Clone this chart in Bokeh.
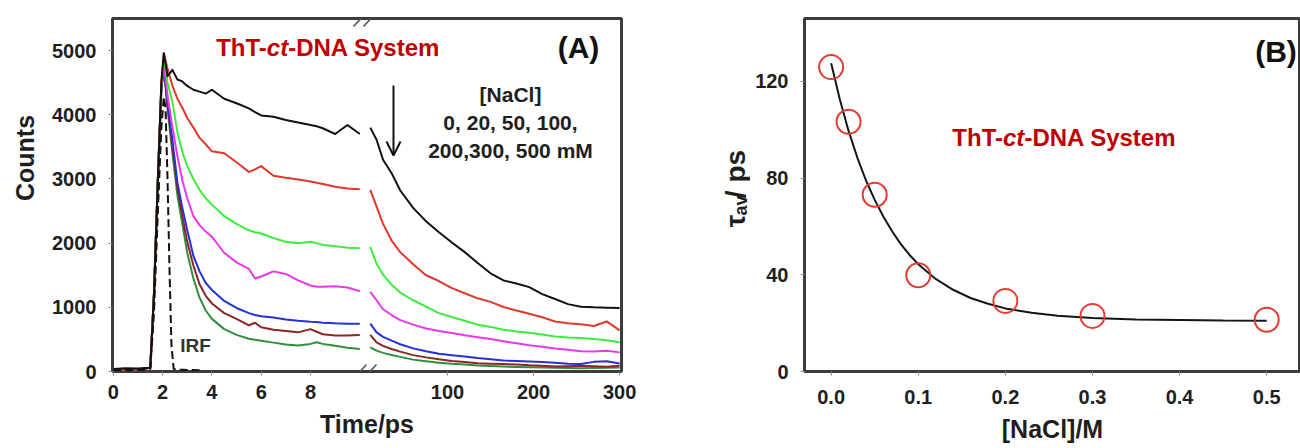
import math
from bokeh.plotting import figure
from bokeh.models import FixedTicker, Label, Arrow, OpenHead, Range1d, PrintfTickFormatter
from bokeh.layouts import row
from bokeh.embed import file_html
from bokeh.resources import INLINE

# ---------------- data: panel A (decay traces) ----------------
T_LEFT = [0, 0.5, 1.0, 1.5, 1.65, 1.8, 1.95, 2.05, 2.2, 2.4, 2.6, 2.8, 3.0, 3.25, 3.5, 3.75,
          4.0, 4.5, 5.0, 5.5, 5.75, 6.0, 6.5, 7.0, 7.5, 8.0, 8.25, 8.5, 9.0, 9.5, 10.0]
T_RIGHT = [10.2, 17.5, 25, 35, 45, 60, 75, 90, 105, 120, 135, 150, 165, 180, 195, 210,
           225, 240, 255, 270, 285, 300]

NACL_0_L = [40, 50, 45, 60, 1200, 2900, 4500, 4960, 4600, 4700, 4550, 4520, 4450, 4390, 4360, 4330,
            4390, 4250, 4180, 4100, 4040, 3990, 3970, 3920, 3880, 3840, 3820, 3790, 3700, 3840, 3700]
NACL_0_R = [3800, 3610, 3300, 3090, 2820, 2550, 2340, 2170, 2010, 1860, 1690, 1530, 1420, 1370, 1315,
            1205, 1130, 1050, 1010, 1000, 995, 990]
NACL_20_L = [30, 30, 30, 60, 1200, 2900, 4500, 4960, 4720, 4450, 4250, 4110, 3950, 3800, 3640, 3540,
             3430, 3400, 3260, 3110, 3150, 3200, 3050, 3020, 2990, 2960, 2940, 2920, 2880, 2850, 2840]
NACL_20_R = [2830, 2570, 2300, 2040, 1860, 1670, 1500, 1410, 1300, 1220, 1140, 1085, 1005, 950, 900,
             845, 780, 750, 735, 710, 780, 640]
NACL_50_L = [30, 30, 30, 60, 1250, 2950, 4450, 4900, 4500, 4200, 3730, 3420, 3200, 3000, 2830, 2700,
             2600, 2420, 2300, 2200, 2170, 2150, 2080, 2020, 2000, 2020, 2000, 1970, 1950, 1930, 1920]
NACL_50_R = [1940, 1680, 1510, 1350, 1230, 1110, 1010, 910, 850, 790, 730, 695, 650, 625, 605,
             575, 545, 530, 522, 505, 488, 455]
NACL_100_L = [30, 30, 30, 60, 1200, 2900, 4450, 4800, 4300, 3800, 3360, 2980, 2700, 2420, 2280, 2180,
              2100, 1850, 1700, 1600, 1450, 1480, 1560, 1520, 1420, 1340, 1320, 1320, 1330, 1310, 1250]
NACL_100_R = [1240, 1110, 970, 880, 800, 730, 670, 630, 600, 565, 535, 505, 470, 440, 410,
              385, 360, 340, 315, 310, 322, 298]
NACL_200_L = [30, 30, 30, 60, 1200, 2900, 4400, 4750, 4200, 3600, 2950, 2550, 2200, 1800, 1560, 1380,
              1270, 1100, 990, 910, 880, 860, 840, 810, 790, 775, 770, 760, 750, 745, 745]
NACL_200_R = [745, 610, 540, 480, 425, 360, 315, 278, 255, 235, 210, 190, 172, 162, 155,
              147, 138, 122, 118, 150, 160, 125]
NACL_300_L = [30, 30, 30, 60, 1200, 2900, 4400, 4750, 4150, 3500, 2850, 2420, 2020, 1650, 1360, 1180,
              1060, 910, 820, 720, 760, 690, 650, 630, 610, 660, 620, 580, 560, 560, 570]
NACL_300_R = [570, 455, 400, 350, 310, 255, 220, 190, 165, 148, 130, 122, 116, 110, 97,
              90, 76, 80, 88, 80, 74, 88]
NACL_500_L = [30, 30, 30, 60, 1200, 2900, 4400, 4750, 4100, 3400, 2750, 2300, 1850, 1450, 1150, 950,
              820, 660, 570, 510, 495, 480, 450, 420, 405, 430, 455, 430, 400, 370, 350]
NACL_500_R = [375, 325, 290, 258, 228, 185, 160, 138, 120, 108, 94, 85, 76, 70, 66,
              62, 58, 55, 52, 55, 58, 62]

T_IRF = [0, 0.5, 1.0, 1.5, 1.65, 1.8, 1.95, 2.05, 2.12, 2.2, 2.28, 2.36, 2.45, 2.7, 3.0, 3.5]
IRF = [25, 25, 25, 40, 900, 2400, 3800, 4280, 4100, 3000, 1600, 400, 40, 30, 25, 20]

X_TICKS_LEFT = [0, 2, 4, 6, 8]
X_TICKS_RIGHT = [100, 200, 300]
Y_TICKS_A = [0, 1000, 2000, 3000, 4000, 5000]

# ---------------- data: panel B ----------------
NACL_M = [0.0, 0.02, 0.05, 0.1, 0.2, 0.3, 0.5]
TAU_AV = [125.9, 103.3, 73.1, 39.8, 29.2, 23.0, 21.4]
FIT_X = [0, 0.01, 0.02, 0.03, 0.04, 0.05, 0.06, 0.07, 0.08, 0.09, 0.10, 0.12, 0.14, 0.16,
         0.18, 0.20, 0.23, 0.26, 0.30, 0.35, 0.40, 0.45, 0.50]
FIT_Y = [127.5, 112.5, 99.5, 88.5, 79.0, 71.0, 64.0, 58.0, 52.7, 48.2, 44.4, 38.3, 33.8, 30.4,
         28.0, 26.1, 24.3, 23.1, 22.1, 21.5, 21.3, 21.1, 21.0]
X_TICKS_B = [0.0, 0.1, 0.2, 0.3, 0.4, 0.5]
Y_TICKS_B = [0, 40, 80, 120]

# ---------------- styling / layout ----------------
FONT = "Liberation Sans"
TXT = "#1e1e1e"
RED_TXT = "#c00000"
FRAME = "#3c3c3c"
H = 448

# broken time axis: left part linear in t, right part compressed
T_R0 = 10.2      # first time of right segment
U_R0 = 10.426    # axis position of T_R0
K_R = 0.0349     # axis units per ps on right segment


def axis_pos(ts, right):
    return [U_R0 + (t - T_R0) * K_R if right else t for t in ts]


def style_axes(p, tick_size, xstand, ystand):
    for ax in (p.xaxis[0], p.yaxis[0]):
        ax.axis_line_color = None
        ax.major_tick_in = 0
        ax.major_tick_out = 4
        ax.major_tick_line_color = "#8a8a8a"
        ax.minor_tick_line_color = None
        ax.major_label_text_font = FONT
        ax.major_label_text_font_style = "bold"
        ax.major_label_text_font_size = tick_size
        ax.major_label_text_color = TXT
        ax.axis_label_text_font = FONT
        ax.axis_label_text_font_style = "bold"
        ax.axis_label_text_font_size = "25px"
        ax.axis_label_text_color = TXT
    p.xaxis[0].major_label_standoff = xstand
    p.yaxis[0].major_label_standoff = ystand
    p.grid.visible = False
    p.outline_line_color = FRAME
    p.outline_line_width = 3
    p.background_fill_color = "white"
    p.border_fill_color = "white"


def text_strip(x0, width):
    """blank figure whose data coordinates equal page pixels, used for side titles"""
    s = figure(width=width, height=H, x_range=Range1d(x0, x0 + width), y_range=Range1d(H, 0),
               output_backend="svg", toolbar_location=None, x_axis_location=None,
               y_axis_location=None, min_border=0)
    s.outline_line_color = None
    s.grid.visible = False
    return s


def strip_label(s, x, y, text, size, angle=0.0, align="center", baseline="middle"):
    s.add_layout(Label(x=x, y=y, text=text, angle=angle, text_align=align,
                       text_baseline=baseline, text_font=FONT, text_font_style="bold",
                       text_font_size=size, text_color=TXT))


# ================= side strip with "Counts" =================
sC = text_strip(0, 48)
strip_label(sC, 24, 177, "Counts", "25px", angle=math.pi / 2)

# ================= Panel A =================
pA = figure(width=602, height=H, x_range=Range1d(-0.032, 20.617), y_range=Range1d(0, 5500),
            output_backend="svg", toolbar_location=None,
            min_border_left=64, min_border_right=29, min_border_top=18, min_border_bottom=77)
style_axes(pA, "20px", 9, 12)
pA.xaxis[0].axis_label = "Time/ps"
pA.xaxis[0].axis_label_standoff = 8

tick_pos = [round(v, 4) for v in axis_pos(X_TICKS_LEFT, False) + axis_pos(X_TICKS_RIGHT, True)]
tick_lab = [str(v) for v in X_TICKS_LEFT + X_TICKS_RIGHT]
pA.xaxis[0].ticker = FixedTicker(ticks=tick_pos)
pA.xaxis[0].major_label_overrides = {pos: lab for pos, lab in zip(tick_pos, tick_lab)}
pA.yaxis[0].ticker = FixedTicker(ticks=Y_TICKS_A)

curves = [
    ("#111111", NACL_0_L, NACL_0_R),
    ("#e2372c", NACL_20_L, NACL_20_R),
    ("#3cee3c", NACL_50_L, NACL_50_R),
    ("#e838e8", NACL_100_L, NACL_100_R),
    ("#2530d8", NACL_200_L, NACL_200_R),
    ("#8e2424", NACL_300_L, NACL_300_R),
    ("#2f8f3c", NACL_500_L, NACL_500_R),
]
for color, yl, yr in reversed(curves):
    pA.line(axis_pos(T_LEFT, False), yl, line_color=color, line_width=2, line_join="round")
    pA.line(axis_pos(T_RIGHT, True), yr, line_color=color, line_width=2, line_join="round")
pA.line(axis_pos(T_IRF, False), IRF, line_color="#111111", line_width=2, line_dash="8 4")


def a_u(px):
    return (px - 112.8) / 24.65


def a_y(py):
    return (371 - py) * 15.58


for xo, txt, align, style in [(-10.7, "ThT-", "right", "bold"), (0, "ct", "center", "bold italic"),
                              (10.7, "-DNA System", "left", "bold")]:
    pA.add_layout(Label(x=a_u(277), y=a_y(47), x_offset=xo, text=txt, text_align=align,
                        text_baseline="middle", text_font=FONT, text_font_style=style,
                        text_font_size="24px", text_color=RED_TXT))

pA.add_layout(Label(x=a_u(578), y=a_y(47), text="(A)", text_align="center", text_baseline="middle",
                    text_font=FONT, text_font_style="bold", text_font_size="30px", text_color="#111"))
for py, txt in [(94, "[NaCl]"), (122, "0, 20, 50, 100,"), (150, "200,300, 500 mM")]:
    pA.add_layout(Label(x=a_u(510), y=a_y(py), text=txt, text_align="center", text_baseline="middle",
                        text_font=FONT, text_font_style="bold", text_font_size="21px", text_color=TXT))
pA.add_layout(Label(x=a_u(195), y=a_y(345), text="IRF", text_align="center", text_baseline="middle",
                    text_font=FONT, text_font_style="bold", text_font_size="19px", text_color="#333"))
pA.add_layout(Arrow(end=OpenHead(size=14, line_width=2, line_color="#111"),
                    x_start=a_u(393), y_start=a_y(85), x_end=a_u(393), y_end=a_y(155),
                    line_width=2, line_color="#111"))
for py0, py1 in [(26, 12), (378, 364)]:
    for dx in (0, 10):
        pA.add_layout(Arrow(start=None, end=None, x_start=a_u(353 + dx), y_start=a_y(py0),
                            x_end=a_u(366 + dx), y_end=a_y(py1), line_width=1.6, line_color="#555"))

# ================= side strip with tau_av / ps =================
sT = text_strip(650, 100)
strip_label(sT, 735, 265, "τ", "28px", angle=math.pi / 2, align="left", baseline="alphabetic")
strip_label(sT, 740, 250, "av", "18px", angle=math.pi / 2, align="left", baseline="alphabetic")
strip_label(sT, 735, 228, "/ ps", "28px", angle=math.pi / 2, align="left", baseline="alphabetic")

# ================= Panel B =================
pB = figure(width=550, height=H, x_range=Range1d(-0.0306, 0.5388), y_range=Range1d(0, 146),
            output_backend="svg", toolbar_location=None,
            min_border_left=54, min_border_right=0, min_border_top=18, min_border_bottom=75)
style_axes(pB, "20px", 14, 12)
pB.xaxis[0].ticker = FixedTicker(ticks=X_TICKS_B)
pB.xaxis[0].formatter = PrintfTickFormatter(format="%.1f")
pB.yaxis[0].ticker = FixedTicker(ticks=Y_TICKS_B)
pB.xaxis[0].axis_label = "[NaCl]/M"
pB.xaxis[0].axis_label_standoff = 8

pB.line(FIT_X, FIT_Y, line_color="#151515", line_width=2)
pB.scatter(NACL_M, TAU_AV, marker="circle", size=24, fill_color=None, line_color="#e53a30",
           line_width=2)


def b_x(px):
    return (px - 830.7) / 870.0


def b_y(py):
    return (373 - py) / 2.433


for xo, txt, align, style in [(-10.7, "ThT-", "right", "bold"), (0, "ct", "center", "bold italic"),
                              (10.7, "-DNA System", "left", "bold")]:
    pB.add_layout(Label(x=b_x(1013), y=b_y(138), x_offset=xo, text=txt, text_align=align,
                        text_baseline="middle", text_font=FONT, text_font_style=style,
                        text_font_size="24px", text_color=RED_TXT))
pB.add_layout(Label(x=b_x(1275), y=b_y(51), text="(B)", text_align="center", text_baseline="middle",
                    text_font=FONT, text_font_style="bold", text_font_size="30px", text_color="#111"))

layout = row(sC, pA, sT, pB)
open("out.html", "w").write(file_html(layout, INLINE))
